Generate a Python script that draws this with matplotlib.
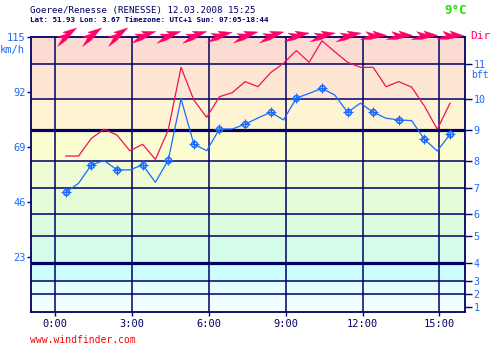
import numpy as np
import matplotlib
matplotlib.use('Agg')
import matplotlib.pyplot as plt
from matplotlib.path import Path
from matplotlib.markers import MarkerStyle
from matplotlib.transforms import Affine2D

times = ['00:25', '00:55', '01:25', '01:55', '02:25', '02:55', '03:25', '03:55',
         '04:25', '04:55', '05:25', '05:55', '06:25', '06:55', '07:25', '07:55',
         '08:25', '08:55', '09:25', '09:55', '10:25', '10:55', '11:25', '11:55',
         '12:25', '12:55', '13:25', '13:55', '14:25', '14:55', '15:25']
avg_kmh = [49.9, 53.7, 61.4, 63.2, 59.3, 59.3, 61.4, 54.1, 63.4, 89.0, 70.1,
           67.3, 76.4, 76.4, 78.4, 81.0, 83.4, 80.2, 89.3, 91.3, 93.4, 90.6,
           83.4, 87.2, 83.4, 80.9, 80.2, 79.9, 72.1, 67.2, 74.2]
gust_kmh = [65.1, 65.1, 72.5, 76.3, 73.9, 67.3, 70.0, 63.7, 76.0, 102.2, 88.5,
            81.3, 89.9, 91.6, 96.2, 94.1, 100.0, 103.9, 109.2, 104.3, 113.3,
            108.7, 104.3, 102.2, 102.2, 94.1, 96.2, 93.9, 86.0, 76.3, 87.2]
# wind direction (from, degrees) every full hour of readings
dir_times = times[::2]
wind_dir = [230, 230, 230, 248, 248, 248, 252, 250, 250, 255, 255, 255, 265, 265, 265, 267]

kmh_ticks = [23, 46, 69, 92, 115]
hour_ticks = [0, 3, 6, 9, 12, 15]
hour_labels = ['0:00', '3:00', '6:00', '9:00', '12:00', '15:00']
bft_edges = [1.85, 7.4, 13.0, 20.4, 31.5, 40.7, 51.9, 63.0, 75.9, 88.9, 103.7]
bft_labels = ['1', '2', '3', '4', '5', '6', '7', '8', '9', '10', '11']
band_edges = [0, 7.4, 13.0, 20.4, 31.5, 40.7, 51.9, 63.0, 75.9, 88.9, 103.7, 115]
band_colors = ['#effefe', '#e2fefe', '#ccfefe', '#d4fce8', '#dcfce0', '#e4fcd8',
               '#eefcd6', '#fcfed2', '#fef3d2', '#fde6d2', '#fcdcd2']

navy = '#000066'
blue = '#1a6aff'
pink = '#ff0066'
mono = 'DejaVu Sans Mono'


def to_hours(t):
    h, m = t.split(':')
    return int(h) + int(m) / 60.0


x = [to_hours(t) for t in times]
xd = [to_hours(t) for t in dir_times]

fig = plt.figure(figsize=(4.95, 3.48), dpi=100)
ax = fig.add_axes([31 / 495, 1 - 311.7 / 348, 434 / 495, 275 / 348])
ax.set_xlim(-0.94, 16.0)
ax.set_ylim(0, 115)

for i, c in enumerate(band_colors):
    ax.axhspan(band_edges[i], band_edges[i + 1], color=c, lw=0, zorder=0)

for e in bft_edges[1:]:
    thick = e in (20.4, 75.9)
    ax.axhline(e, color=navy, lw=2.3 if thick else 1.1, zorder=1)
for h in hour_ticks:
    ax.axvline(h, color=navy, lw=1.1, zorder=1)

ax.plot(x, gust_kmh, color='#f0105a', lw=0.9, zorder=3)
ax.plot(x, avg_kmh, color=blue, lw=0.9, zorder=3)
ax.plot(x[::2], avg_kmh[::2], 'o', ms=4.2, mfc='none', mec=blue, mew=1.1, zorder=4)
ax.plot(x[::2], avg_kmh[::2], '+', ms=6.5, mec=blue, mew=0.9, zorder=4)

# direction arrows along the top
verts = [(1, 0), (0.0, 0.42), (0.15, 0.14), (-0.55, 0.42), (-0.3, 0.1),
         (-1, -0.15), (-0.2, -0.2), (1, 0)]
codes = [Path.MOVETO] + [Path.LINETO] * 6 + [Path.CLOSEPOLY]
arrow = Path(verts, codes)
for xi, d in zip(xd, wind_dir):
    ang = 270 - d
    m = MarkerStyle(arrow, transform=Affine2D().rotate_deg(ang))
    ax.plot([xi], [115.5], marker=m, ms=19, color=pink, mec=pink, mew=0.3,
            ls='none', clip_on=False, zorder=6)

for s in ax.spines.values():
    s.set_color(navy)
    s.set_linewidth(1.3)

ax.set_yticks(kmh_ticks)
ax.set_yticklabels([str(v) for v in kmh_ticks], family=mono, fontsize=7.5, color=blue)
ax.tick_params(axis='y', colors=navy, labelcolor=blue, length=3, width=1, pad=1)
ax.set_xticks(hour_ticks)
ax.set_xticklabels(hour_labels, family=mono, fontsize=7.5, color=navy)
ax.tick_params(axis='x', colors=navy, length=3, width=1, pad=2)

ax2 = ax.twinx()
ax2.set_ylim(0, 115)
ax2.set_yticks(bft_edges)
ax2.set_yticklabels(bft_labels, family=mono, fontsize=7.2, color=blue)
ax2.tick_params(axis='y', colors=navy, labelcolor=blue, length=5, width=1, pad=1)
for s in ax2.spines.values():
    s.set_visible(False)

fig.text(0 / 495, 1 - 50 / 348, 'km/h', family=mono, fontsize=7.5, color=blue, va='center')
fig.text(471 / 495, 1 - 75 / 348, 'bft', family=mono, fontsize=7, color=blue, va='center')
fig.text(470 / 495, 1 - 36 / 348, 'Dir', family=mono, fontsize=8, color=pink, va='center')

fig.text(30 / 495, 1 - 10 / 348, 'Goeree/Renesse (RENESSE) 12.03.2008 15:25',
         family=mono, fontsize=6.6, color=navy, va='center')
fig.text(30 / 495, 1 - 20 / 348, 'Lat: 51.93 Lon: 3.67 Timezone: UTC+1 Sun: 07:05-18:44',
         family=mono, fontsize=5.4, color=navy, weight='bold', va='center')
fig.text(444 / 495, 1 - 10 / 348, '9°C', family=mono, fontsize=9, color='#22dd00',
         weight='bold', va='center')
fig.text(30 / 495, 1 - 340 / 348, 'www.windfinder.com', family=mono, fontsize=7,
         color='#ff0000', va='center')

fig.savefig('out.png', dpi=100)
